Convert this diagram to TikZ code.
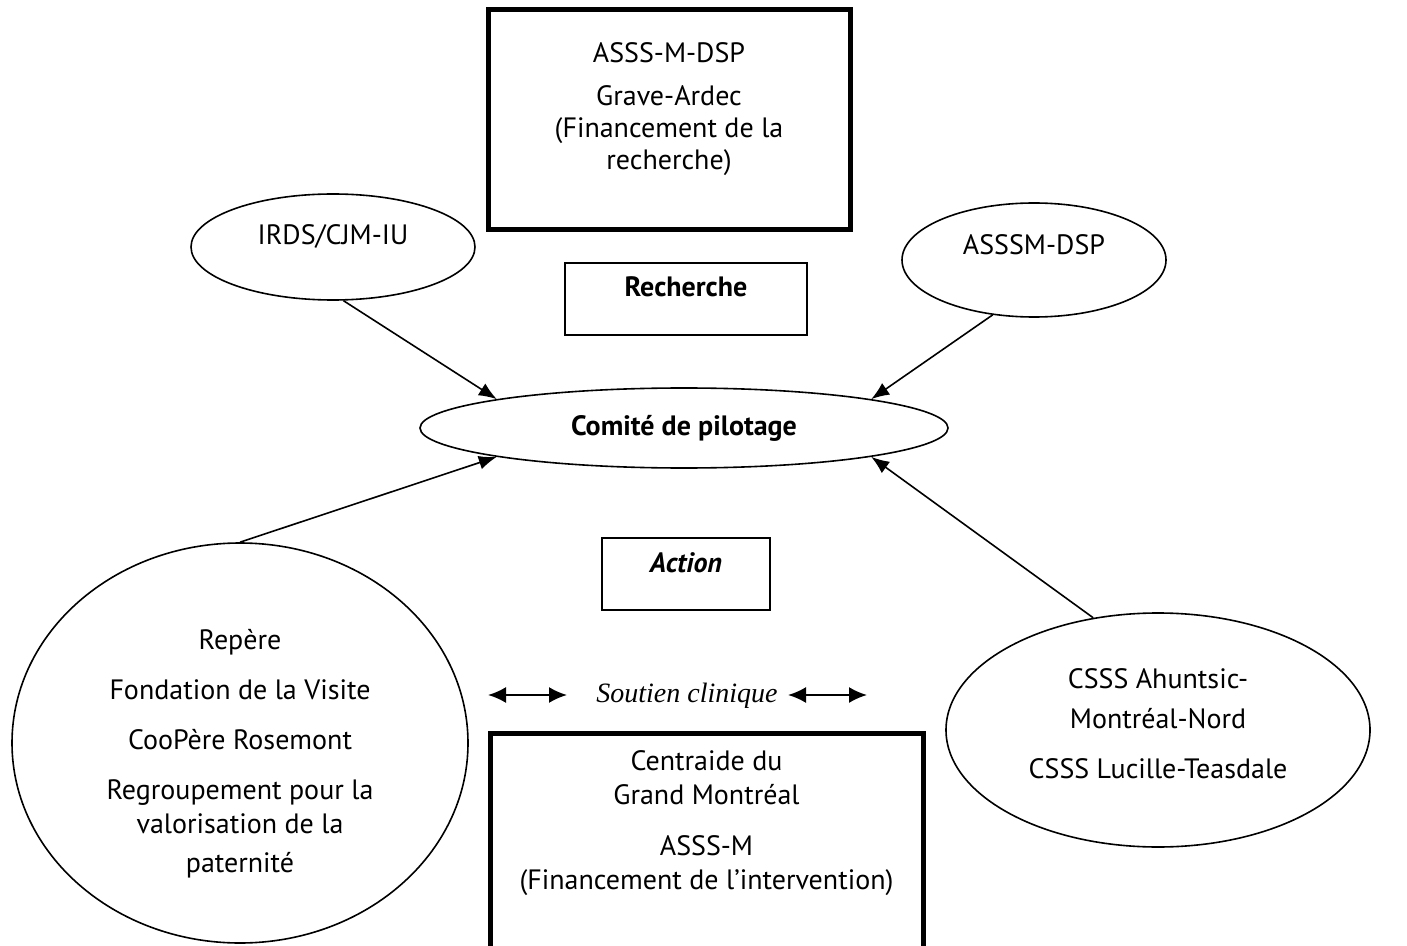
\documentclass[tikz,border=0pt]{standalone}
\usepackage{fontspec}
\setmainfont{PT Sans}
\newfontfamily\soutienfont{Liberation Serif}
\usetikzlibrary{shapes.geometric,arrows.meta}

\tikzset{
  partner/.style={draw,ellipse,line width=0.8pt,align=center,inner sep=0pt,text depth=0pt},
  fundbox/.style={draw,rectangle,line width=2.5pt,align=center,text depth=0pt},
  tagbox/.style={draw,rectangle,line width=1.1pt,text height=0pt},
  link/.style={line width=0.8pt,-{Latex[length=9pt,width=7pt]}},
  support/.style={line width=1pt,{Latex[length=9pt,width=8pt]}-{Latex[length=9pt,width=8pt]}}
}

\begin{document}
\fontsize{14}{17}\selectfont
\begin{tikzpicture}[x=0.5pt,y=-0.5pt]
\useasboundingbox (0,0) rectangle (1407,946);
\clip (0,0) rectangle (1407,946);

\node[fundbox,minimum width=181pt,minimum height=110pt,text height=50pt] (dsp) at (669,120)
  {ASSS-M-DSP\\[4.5pt]Grave-Ardec\\[-1pt](Financement de la\\[-1pt]recherche)};
\node[partner,minimum width=142pt,minimum height=53pt,text height=0pt,text depth=2pt] (irds) at (333,247) {IRDS/CJM-IU};
\node[partner,minimum width=132pt,minimum height=57pt,text height=0pt,text depth=5pt] (asssm) at (1034,260) {ASSSM-DSP};
\node[tagbox,font=\bfseries,minimum width=121pt,minimum height=36pt,text depth=2pt] (rech) at (686,299) {Recherche};
\node[partner,font=\bfseries,minimum width=264pt,minimum height=40pt,text height=7pt] (comite) at (684,428) {Comité de pilotage};
\node[tagbox,font=\bfseries\itshape,minimum width=84pt,minimum height=36pt,text depth=2pt] (action) at (686,574) {Action};
\node[partner,minimum width=228pt,minimum height=200pt,text height=129pt] (repere) at (240,743)
  {Repère\\[8pt]Fondation de la Visite\\[8pt]CooPère Rosemont\\[8pt]Regroupement pour la\\valorisation de la\\[2.5pt]paternité};
\node[partner,minimum width=212pt,minimum height=117pt,text height=48pt] (csss) at (1158,730)
  {CSSS Ahuntsic-\\[3pt]Montréal-Nord\\[8pt]CSSS Lucille-Teasdale};
\node[font=\soutienfont\itshape,anchor=base] (soutien) at (687,702) {Soutien clinique};
\node[fundbox,anchor=north,minimum width=216.5pt,minimum height=130pt,text height=26pt] (centraide) at (706.5,731)
  {Centraide du\\Grand Montréal\\[8.5pt]ASSS-M\\(Financement de l'intervention)};

% vers le comite
\draw[link] (irds.-79) -- (comite.north west);
\draw[link] (asssm.233) -- (comite.north east);
\draw[link] (repere.north) -- (comite.south west);
\draw[link] (csss.120) -- (comite.south east);

% soutien clinique
\coordinate (sl1) at (488,695);
\coordinate (sl2) at (567,695);
\coordinate (sr1) at (788,695);
\coordinate (sr2) at (867,695);
\draw[support] (sl1) -- (sl2);
\draw[support] (sr1) -- (sr2);
\end{tikzpicture}
\end{document}
